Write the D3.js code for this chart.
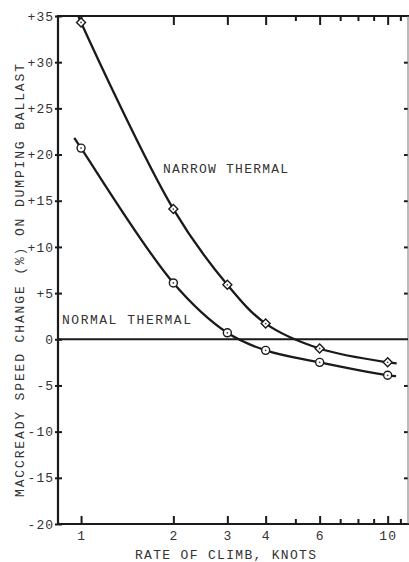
<!DOCTYPE html>
<html>
<head>
<meta charset="utf-8">
<script src="https://cdn.jsdelivr.net/npm/d3@7"></script>
<style>
  body { margin: 0; background: #fff; }
  text { font-family: "Liberation Mono", "DejaVu Sans Mono", monospace; fill: #333; }
</style>
</head>
<body>
<svg id="chart" width="409" height="562"></svg>
<script>
// values
var climbRates = [1, 2, 3, 4, 6, 10];
var narrowThermal = [34.3, 14.1, 5.9, 1.7, -1.0, -2.5];
var normalThermal = [20.7, 6.1, 0.7, -1.2, -2.5, -3.9];
// the drawn curves run a little past the first and last points
var narrowEnds = [[0.98, 35], [10.7, -2.6]];
var normalEnds = [[0.95, 21.8], [10.65, -4.0]];

var majorX = [1, 2, 3, 4, 6, 10];
var minorX = [5, 7, 8, 9, 11];
var yTicks = [-20, -15, -10, -5, 0, 5, 10, 15, 20, 25, 30, 35];

var svg = d3.select("#chart"),
    padL = 58, padR = 408, padT = 16, padB = 524,
    ink = "#1a1a1a";

var x = d3.scaleLog().domain([0.841, 11.65]).range([padL, padR]);
var y = d3.scaleLinear().domain([-20, 35]).range([padB, padT]);

function yFmt(v) { return v > 0 ? "+" + v : String(v); }

function styleAxis(g) {
  g.select(".domain").remove();
  g.selectAll(".tick line").attr("stroke", ink).attr("stroke-width", 2);
  g.selectAll("text").attr("fill", "#333").attr("font-size", 13)
    .attr("font-family", "Liberation Mono").style("letter-spacing", "1px");
}

// bottom ticks (pointing in)
svg.append("g").attr("transform", "translate(0," + padB + ")")
  .call(d3.axisBottom(x).tickValues(majorX).tickSizeInner(-8).tickSizeOuter(0)
    .tickPadding(0).tickFormat(d3.format("d")))
  .call(styleAxis)
  .selectAll("text").attr("dy", "1.25em");
svg.append("g").attr("transform", "translate(0," + padB + ")")
  .call(d3.axisBottom(x).tickValues(minorX).tickSizeInner(-5).tickSizeOuter(0).tickFormat(""))
  .call(styleAxis);

// top ticks (pointing in)
svg.append("g").attr("transform", "translate(0," + padT + ")")
  .call(d3.axisTop(x).tickValues(majorX).tickSizeInner(-9).tickSizeOuter(0).tickFormat(""))
  .call(styleAxis);
svg.append("g").attr("transform", "translate(0," + padT + ")")
  .call(d3.axisTop(x).tickValues(minorX).tickSizeInner(-5).tickSizeOuter(0).tickFormat(""))
  .call(styleAxis);

// left axis, ticks cross the line
var yl = svg.append("g").attr("transform", "translate(" + padL + ",0)")
  .call(d3.axisLeft(y).tickValues(yTicks).tickSizeInner(3).tickSizeOuter(0)
    .tickPadding(1).tickFormat(yFmt))
  .call(styleAxis);
yl.selectAll(".tick line").attr("x1", 4);

// right axis ticks
svg.append("g").attr("transform", "translate(" + padR + ",0)")
  .call(d3.axisRight(y).tickValues(yTicks.filter(function(v) { return v !== 0 && v !== -20 && v !== 35; }))
    .tickSizeInner(-4).tickSizeOuter(0).tickFormat(""))
  .call(styleAxis);

// frame
svg.append("line").attr("x1", padL).attr("x2", padL).attr("y1", padT - 1).attr("y2", padB + 1)
  .attr("stroke", ink).attr("stroke-width", 2.2);
svg.append("line").attr("x1", padL).attr("x2", padR + 1).attr("y1", padT).attr("y2", padT)
  .attr("stroke", ink).attr("stroke-width", 2);
svg.append("line").attr("x1", padL).attr("x2", padR + 1).attr("y1", padB).attr("y2", padB)
  .attr("stroke", ink).attr("stroke-width", 2.2);
svg.append("line").attr("x1", padR).attr("x2", padR).attr("y1", padT).attr("y2", padB)
  .attr("stroke", "#777").attr("stroke-width", 1);

// zero line
svg.append("line").attr("x1", padL).attr("x2", padR).attr("y1", y(0)).attr("y2", y(0))
  .attr("stroke", ink).attr("stroke-width", 1.8);

// curves
var line = d3.line()
    .x(function(d) { return x(d[0]); })
    .y(function(d) { return y(d[1]); })
    .curve(d3.curveCatmullRom.alpha(0.5));

function curvePoints(vals, ends) {
  var pts = climbRates.map(function(c, i) { return [c, vals[i]]; });
  return [ends[0]].concat(pts, [ends[1]]);
}

svg.append("path").datum(curvePoints(narrowThermal, narrowEnds))
  .attr("d", line).attr("fill", "none").attr("stroke", ink).attr("stroke-width", 2.3);
svg.append("path").datum(curvePoints(normalThermal, normalEnds))
  .attr("d", line).attr("fill", "none").attr("stroke", ink).attr("stroke-width", 2.3);

// markers
var diamonds = svg.append("g").selectAll("g")
  .data(climbRates.map(function(c, i) { return [c, narrowThermal[i]]; }))
  .enter().append("g")
  .attr("transform", function(d) { return "translate(" + x(d[0]) + "," + y(d[1]) + ")"; });
diamonds.append("path").attr("d", "M0,-4.5L4.5,0L0,4.5L-4.5,0Z")
  .attr("fill", "#fff").attr("stroke", ink).attr("stroke-width", 1.4);
diamonds.append("circle").attr("r", 0.9).attr("fill", "#444");

var circles = svg.append("g").selectAll("g")
  .data(climbRates.map(function(c, i) { return [c, normalThermal[i]]; }))
  .enter().append("g")
  .attr("transform", function(d) { return "translate(" + x(d[0]) + "," + y(d[1]) + ")"; });
circles.append("circle").attr("r", 4)
  .attr("fill", "#fff").attr("stroke", ink).attr("stroke-width", 1.4);
circles.append("circle").attr("r", 0.9).attr("fill", "#444");

// labels
svg.append("text").attr("x", 163).attr("y", 173).attr("font-size", 13)
  .attr("textLength", 125).attr("lengthAdjust", "spacing").text("NARROW THERMAL");
svg.append("text").attr("x", 62).attr("y", 324).attr("font-size", 13)
  .attr("textLength", 129).attr("lengthAdjust", "spacing").text("NORMAL THERMAL");

svg.append("text").attr("x", 135).attr("y", 559).attr("font-size", 13)
  .attr("textLength", 181).attr("lengthAdjust", "spacing").text("RATE OF CLIMB, KNOTS");

svg.append("text").attr("transform", "translate(23.5,497) rotate(-90)").attr("font-size", 13)
  .attr("textLength", 433).attr("lengthAdjust", "spacing")
  .text("MACCREADY SPEED CHANGE (%) ON DUMPING BALLAST");
</script>
</body>
</html>
